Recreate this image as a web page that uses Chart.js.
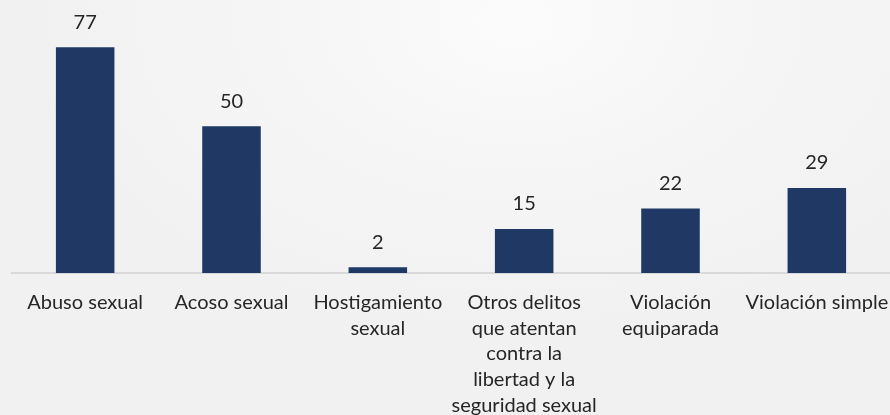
<!DOCTYPE html>
<html lang="es">
<head>
<meta charset="utf-8">
<title>Delitos sexuales</title>
<script src="https://cdn.jsdelivr.net/npm/chart.js@4"></script>
<style>
  html, body { margin: 0; padding: 0; }
  body {
    width: 890px; height: 415px; overflow: hidden;
    background: radial-gradient(ellipse 55% 75% at 58% 5%, #fbfbfb 0%, #f6f6f6 45%, #f1f1f1 100%);
  }
  #wrap { position: relative; width: 890px; height: 415px; }
</style>
</head>
<body>
<div id="wrap"><canvas id="chart"></canvas></div>
<script>
// categorías (con saltos de línea como en la figura)
const categories = [
  ['Abuso sexual'],
  ['Acoso sexual'],
  ['Hostigamiento', 'sexual'],
  ['Otros delitos', 'que atentan', 'contra la', 'libertad y la', 'seguridad sexual'],
  ['Violación', 'equiparada'],
  ['Violación simple'],
];
const casos = [77, 50, 2, 15, 22, 29];

const NAVY = '#203864';
const TEXT = '#262626';
const FONT = 'Lato, "Open Sans", sans-serif';

// etiquetas de valor encima de cada barra
const valueLabels = {
  id: 'valueLabels',
  afterDatasetsDraw(chart) {
    const ctx = chart.ctx;
    const meta = chart.getDatasetMeta(0);
    ctx.save();
    ctx.font = '20px ' + FONT;
    ctx.fillStyle = TEXT;
    ctx.textAlign = 'center';
    ctx.textBaseline = 'middle';
    meta.data.forEach((bar, i) => {
      ctx.fillText(String(casos[i]), bar.x, bar.y - 25);
    });
    ctx.restore();
  }
};

new Chart(document.getElementById('chart'), {
  type: 'bar',
  data: {
    labels: categories,
    datasets: [{
      data: casos,
      backgroundColor: NAVY,
      borderWidth: 0,
      barPercentage: 0.4,
      categoryPercentage: 1,
    }],
  },
  options: {
    responsive: true,
    maintainAspectRatio: false,
    animation: false,
    layout: { padding: { left: 12, right: 0, top: 9, bottom: 0 } },
    plugins: {
      legend: { display: false },
      tooltip: { enabled: false },
    },
    scales: {
      x: {
        grid: { display: false, drawTicks: false },
        border: { display: true, color: '#d9d9d9', width: 2 },
        ticks: {
          color: TEXT,
          font: { family: FONT, size: 20, lineHeight: 1.28 },
          padding: 17,
          maxRotation: 0,
          autoSkip: false,
        },
        afterFit: s => { s.paddingLeft = 0; s.paddingRight = 0; s.height = 142; },
      },
      y: {
        display: false,
        min: 0,
        max: 90,
      },
    },
  },
  plugins: [valueLabels],
});
</script>
</body>
</html>
